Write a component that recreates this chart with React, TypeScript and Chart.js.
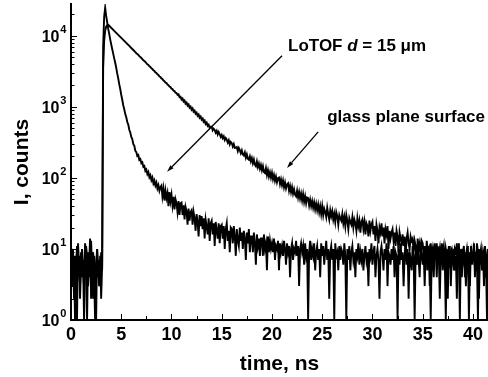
import React, { useEffect, useRef } from 'react';
import { Chart, registerables } from 'chart.js';

Chart.register(...registerables);

const FONT = '"Liberation Sans", Arial, Helvetica, sans-serif';

// time channels: t = index * step (ns)
const TIME_STEP_NS = 0.1;

// glass plane surface (slow decay), counts per channel
const glassCounts = [
  4, 7, 10, 2, 8, 5, 1, 12, 6, 3, 9, 4, 7, 1, 5, 11, 8, 3, 6, 14, 2, 7, 9, 4, 1, 6, 10, 5, 3, 8, 2, 6,
  3500, 8500, 11800, 13400, 14100,
  14290, 13830, 13390, 12950, 12540, 12130, 11740, 11360, 11000, 10640,
  10300, 9970, 9650, 9340, 9040, 8750, 8460, 8190, 7930, 7670,
  7430, 7190, 6950, 6730, 6510, 6300, 6100, 5900, 5690, 5550,
  5390, 5160, 5010, 4880, 4690, 4510, 4400, 4290, 4110, 3960,
  3880, 3720, 3650, 3480, 3400, 3260, 3190, 3050, 2990, 2860,
  2800, 2670, 2630, 2510, 2460, 2350, 2300, 2200, 2160, 2060,
  2020, 1930, 1900, 1800, 1780, 1690, 1670, 1580, 1560, 1480,
  1500, 1370, 1390, 1270, 1310, 1190, 1230, 1110, 1150, 1040,
  1080, 975, 1010, 910, 950, 855, 885, 800, 830, 750,
  780, 700, 730, 660, 685, 615, 640, 575, 600, 540,
  560, 505, 525,
  525, 468, 494, 474, 432, 459, 407, 442, 411, 378,
  402, 362, 384, 340, 364, 345, 314, 339, 296, 322,
  309, 276, 300, 264, 266, 272, 238, 264, 246, 222,
  244, 214, 207, 229, 193, 214, 186, 180, 201, 171,
  190, 161, 182, 154, 146, 170, 142, 159, 135, 152,
  128, 146, 121, 117, 137, 110, 128, 105, 120, 101,
  118, 96, 110, 91, 104, 87, 99, 101, 82, 95,
  79, 92, 74, 86, 71, 81, 84, 66, 77, 63,
  74, 60, 69, 58, 55, 66, 53, 63, 51, 60,
  48, 59, 46, 55, 44, 53, 52, 41, 49, 40,
  47, 38, 45, 36, 43, 35, 42, 33, 40, 31,
  40, 30, 37, 33, 28, 38, 31, 26, 35, 29,
  34, 26, 31, 24, 33, 29, 22, 30, 27, 25,
  31, 23, 28, 21, 30, 25, 19, 27, 24, 22,
  28, 20, 26, 23, 18, 27, 21, 25, 17, 24,
  26, 19, 24, 16, 23, 21, 15, 25, 18, 22,
  24, 16, 21, 13, 22, 18, 12, 20, 17, 23,
  15, 20, 12, 19, 16, 21, 10, 18, 14, 17,
  19, 13, 17, 11, 18, 15, 9, 17, 14, 12,
  16, 11, 15, 8, 14, 17, 12, 10, 15, 13,
  14, 9, 13, 11, 6, 14, 10, 12, 8, 13,
  12, 8, 11, 5, 13, 9, 10, 3, 12, 8,
  10, 7, 12, 9, 4, 11, 8, 10, 6, 12,
  9, 11, 6, 10, 8, 2, 11, 7, 9, 10,
  8, 5, 10, 9, 12, 6, 8, 1, 10, 7,
  9, 11, 4, 8, 10, 7, 9, 3, 11, 8,
  7, 10, 8, 5, 12, 9, 2, 8, 10, 6,
  9, 7, 11, 4, 8, 10,
];

// LoTOF d = 15 um (fast decay), counts per channel
const lotofCounts = [
  5, 9, 3, 7, 1, 6, 11, 4, 8, 2, 6, 10, 5, 3, 12, 7, 1, 9, 4, 6, 13, 5, 2, 8, 6, 1, 10, 4, 7, 3, 9, 5,
  7000, 18500, 24800, 19000, 15500, 12600, 10700, 8900, 7600, 6500,
  5600, 4800, 4170, 3550, 2950, 2510, 2090, 1780, 1480, 1260,
  1052, 925, 790, 716, 611, 562, 476, 436,
  376, 352, 298, 285, 241, 231, 203, 209, 179, 184,
  161, 166, 143, 147, 125, 131, 113, 121, 102, 109,
  93, 101, 84, 92, 78, 86, 71, 79, 66, 74,
  78, 55, 70, 48, 66, 52, 61, 40, 63, 47,
  58, 41, 54, 36, 50, 44, 33, 47, 30, 44,
  45, 30, 41, 26, 39, 34, 22, 37, 25, 33,
  35, 22, 33, 27, 18, 31, 24, 15, 30, 21,
  29, 19, 27, 14, 26, 21, 16, 27, 13, 23,
  25, 16, 23, 11, 24, 18, 14, 23, 12, 21,
  22, 14, 21, 10, 19, 23, 13, 18, 9, 20,
  19, 12, 21, 15, 8, 19, 13, 11, 20, 13,
  17, 10, 18, 14, 7, 17, 12, 19, 9, 15,
  15, 9, 17, 12, 6, 16, 11, 14, 8, 14,
  14, 8, 16, 10, 12, 5, 15, 9, 13, 10,
  12, 9, 14, 7, 11, 10, 13, 5, 12, 9,
  11, 8, 13, 10, 6, 12, 9, 11, 4, 10,
  12, 7, 10, 9, 13, 8, 11, 3, 10, 12,
  9, 11, 6, 12, 8, 10, 1, 9, 13, 7,
  10, 8, 12, 5, 9, 11, 7, 10, 4, 12,
  8, 11, 6, 9, 13, 7, 10, 2, 9, 11,
  7, 10, 1, 12, 8, 9, 5, 11, 7, 10,
  9, 6, 12, 8, 1, 10, 7, 11, 5, 9,
  11, 7, 9, 4, 10, 8, 12, 6, 9, 7,
  10, 5, 8, 11, 7, 9, 3, 10, 8, 12,
  6, 9, 11, 4, 8, 10, 7, 2, 9, 11,
  8, 5, 10, 7, 12, 3, 9, 8, 6, 10,
  7, 11, 4, 9, 8, 1, 10, 6, 12, 7,
  9, 3, 8, 11, 6, 10, 2, 9, 7, 5,
  11, 8, 1, 9, 6, 10, 7, 4, 12, 8,
  6, 9, 3, 10, 8, 5, 11, 7, 1, 9,
  8, 4, 10, 7, 12, 6, 9, 2, 8, 11,
  5, 9, 7, 1, 10, 8, 6, 11, 3, 9,
  7, 10, 5, 8, 2, 9, 12, 6, 8, 4,
  10, 7, 9, 3, 8, 11, 1, 7, 9, 6,
  8, 12, 4, 9, 7, 1, 10, 6, 8, 5,
  9, 3, 11, 7, 1, 8,
];

const xRange = [0, 41.5];
const yRange = [1, 28000];
const xTickValues = [0, 5, 10, 15, 20, 25, 30, 35, 40];
const xMinorTickValues = [2.5, 7.5, 12.5, 17.5, 22.5, 27.5, 32.5, 37.5];
const yTickValues = [1, 10, 100, 1000, 10000];
const yTickExponents = ['0', '1', '2', '3', '4'];
const yMinorTickValues = [
  2, 3, 4, 5, 6, 7, 8, 9,
  20, 30, 40, 50, 60, 70, 80, 90,
  200, 300, 400, 500, 600, 700, 800, 900,
  2000, 3000, 4000, 5000, 6000, 7000, 8000, 9000,
  20000,
];

// annotations in data units: [x, y]
const lotofLabelAt = [21.6, 7000];
const lotofArrow = [21.0, 5230, 9.56, 122]; // from (x,y) to (x,y)
const glassLabelAt = [25.5, 723];
const glassArrow = [24.6, 444, 21.5, 138];

function toPoints(values: number[]) {
  return values.map((v, i) => ({ x: Math.round(i * TIME_STEP_NS * 10) / 10, y: v }));
}

function drawArrow(ctx: CanvasRenderingContext2D, x1: number, y1: number, x2: number, y2: number) {
  const ang = Math.atan2(y2 - y1, x2 - x1);
  const len = 7;
  const hw = 2.2;
  const bx = x2 - len * Math.cos(ang);
  const by = y2 - len * Math.sin(ang);
  ctx.beginPath();
  ctx.moveTo(x1, y1);
  ctx.lineTo(bx, by);
  ctx.lineWidth = 1.3;
  ctx.stroke();
  ctx.beginPath();
  ctx.moveTo(x2, y2);
  ctx.lineTo(bx + hw * Math.sin(ang), by - hw * Math.cos(ang));
  ctx.lineTo(bx - hw * Math.sin(ang), by + hw * Math.cos(ang));
  ctx.closePath();
  ctx.fill();
}

const overlayPlugin = {
  id: 'overlay',
  afterDraw(chart: any) {
    const { ctx, chartArea } = chart;
    const xs = chart.scales.x;
    const ys = chart.scales.y;
    ctx.save();
    ctx.strokeStyle = '#000';
    ctx.fillStyle = '#000';
    ctx.lineWidth = 1;
    ctx.beginPath();
    for (const v of xTickValues) {
      const px = Math.round(xs.getPixelForValue(v)) + 0.5;
      ctx.moveTo(px, chartArea.bottom);
      ctx.lineTo(px, chartArea.bottom - 6);
    }
    for (const v of xMinorTickValues) {
      const px = Math.round(xs.getPixelForValue(v)) + 0.5;
      ctx.moveTo(px, chartArea.bottom);
      ctx.lineTo(px, chartArea.bottom - 4);
    }
    for (const v of yTickValues) {
      const py = Math.round(ys.getPixelForValue(v)) + 0.5;
      ctx.moveTo(chartArea.left, py);
      ctx.lineTo(chartArea.left + 6, py);
    }
    for (const v of yMinorTickValues) {
      const py = Math.round(ys.getPixelForValue(v)) + 0.5;
      ctx.moveTo(chartArea.left, py);
      ctx.lineTo(chartArea.left + 3.5, py);
    }
    ctx.stroke();

    // y tick labels: 10 with superscript exponent
    ctx.textAlign = 'left';
    ctx.textBaseline = 'alphabetic';
    yTickValues.forEach((v, i) => {
      const py = ys.getPixelForValue(v);
      ctx.font = 'bold 16px ' + FONT;
      ctx.fillText('10', chartArea.left - 29.3, py + 5.8);
      ctx.font = 'bold 11px ' + FONT;
      ctx.fillText(yTickExponents[i], chartArea.left - 10.8, py - 2.6);
    });

    drawArrow(ctx,
      xs.getPixelForValue(lotofArrow[0]), ys.getPixelForValue(lotofArrow[1]),
      xs.getPixelForValue(lotofArrow[2]), ys.getPixelForValue(lotofArrow[3]));
    drawArrow(ctx,
      xs.getPixelForValue(glassArrow[0]), ys.getPixelForValue(glassArrow[1]),
      xs.getPixelForValue(glassArrow[2]), ys.getPixelForValue(glassArrow[3]));

    ctx.textBaseline = 'middle';
    ctx.textAlign = 'left';
    let tx = xs.getPixelForValue(lotofLabelAt[0]);
    const ty = ys.getPixelForValue(lotofLabelAt[1]);
    const parts: [string, boolean][] = [['LoTOF ', false], ['d', true], [' = 15 \u03BCm', false]];
    for (const [t, it] of parts) {
      ctx.font = (it ? 'italic ' : '') + 'bold 17px ' + FONT;
      ctx.fillText(t, tx, ty);
      tx += ctx.measureText(t).width;
    }
    ctx.font = 'bold 17px ' + FONT;
    ctx.fillText('glass plane surface', xs.getPixelForValue(glassLabelAt[0]), ys.getPixelForValue(glassLabelAt[1]));
    ctx.restore();
  },
};

export default function App() {
  const ref = useRef<HTMLCanvasElement | null>(null);
  useEffect(() => {
    if (!ref.current) return;
    const chart = new Chart(ref.current, {
      type: 'line',
      data: {
        datasets: [
          {
            label: 'glass plane surface',
            data: toPoints(glassCounts),
            borderColor: '#000',
            borderWidth: 1.9,
            pointRadius: 0,
            tension: 0,
            fill: false,
          },
          {
            label: 'LoTOF d = 15 um',
            data: toPoints(lotofCounts),
            borderColor: '#000',
            borderWidth: 1.9,
            pointRadius: 0,
            tension: 0,
            fill: false,
          },
        ],
      },
      options: {
        responsive: false,
        animation: false,
        events: [],
        layout: { padding: { top: 4, right: 0, bottom: 0, left: 0 } },
        plugins: { legend: { display: false }, tooltip: { enabled: false } },
        scales: {
          x: {
            type: 'linear',
            position: 'bottom',
            min: xRange[0],
            max: xRange[1],
            afterBuildTicks: (s: any) => {
              s.ticks = xTickValues.map((v) => ({ value: v }));
            },
            afterFit: (s: any) => {
              s.height = 57;
            },
            grid: { display: false, drawTicks: false, tickLength: 0 },
            border: { display: true, color: '#000', width: 2 },
            ticks: {
              color: '#000',
              font: { family: FONT, size: 18, weight: 'bold' },
              padding: 4,
              maxRotation: 0,
              autoSkip: false,
              callback: (v: any) => String(v),
            },
            title: {
              display: true,
              text: 'time, ns',
              color: '#000',
              font: { family: FONT, size: 21, weight: 'bold' },
              padding: { top: 0, bottom: 0 },
            },
          },
          y: {
            type: 'logarithmic',
            min: yRange[0],
            max: yRange[1],
            afterBuildTicks: (s: any) => {
              s.ticks = yTickValues.map((v) => ({ value: v, major: true }));
            },
            afterFit: (s: any) => {
              s.width = 71;
            },
            grid: { display: false, drawTicks: false, tickLength: 0 },
            border: { display: true, color: '#000', width: 2 },
            ticks: { display: false },
            title: {
              display: true,
              text: 'I, counts',
              color: '#000',
              font: { family: FONT, size: 21, weight: 'bold' },
              padding: { top: 10, bottom: 0 },
            },
          },
        },
      } as any,
      plugins: [overlayPlugin],
    });
    return () => chart.destroy();
  }, []);
  return (
    <div style={{ position: 'absolute', left: 0, top: 0, width: 488, height: 377, background: '#fff' }}>
      <canvas ref={ref} width={488} height={377} style={{ display: 'block' }} />
    </div>
  );
}
